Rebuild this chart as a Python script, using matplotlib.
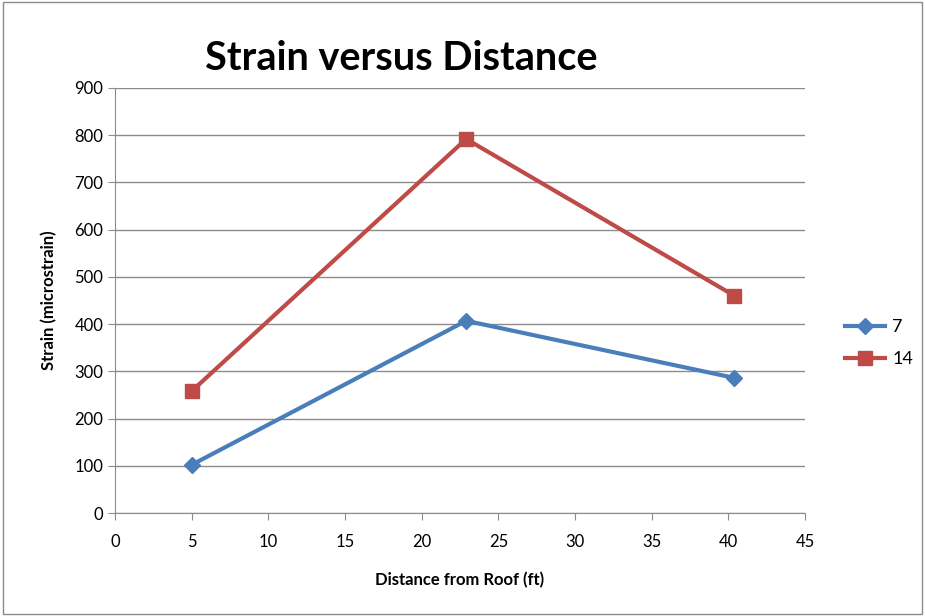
import matplotlib.pyplot as plt
from matplotlib.patches import Rectangle

# Data
distance = [5, 22.9, 40.4]
strain_7 = [102, 407, 286]
strain_14 = [258, 792, 460]
series_names = ['7', '14']

plt.rcParams['font.family'] = ['Lato', 'DejaVu Sans']

fig = plt.figure(figsize=(9.25, 6.16), dpi=100)
ax = fig.add_axes([115 / 925, 1 - 513 / 616, 690 / 925, 425 / 616])

ax.plot(distance, strain_7, color='#4a7ebb', linewidth=3, marker='D',
        markersize=8, label=series_names[0], zorder=3)
ax.plot(distance, strain_14, color='#be4b48', linewidth=3, marker='s',
        markersize=10, label=series_names[1], zorder=3)

ax.set_xlim(0, 45)
ax.set_ylim(0, 900)
ax.set_xticks(range(0, 46, 5))
ax.set_yticks(range(0, 901, 100))
ax.grid(axis='y', color='#8c8c8c', linewidth=1)
ax.set_axisbelow(True)

for side in ['top', 'right']:
    ax.spines[side].set_visible(False)
for side in ['left', 'bottom']:
    ax.spines[side].set_color('#8c8c8c')
ax.tick_params(colors='#8c8c8c', labelcolor='black', labelsize=12, length=5)
ax.tick_params(axis='x', pad=10)

ax.set_xlabel('Distance from Roof (ft)', fontsize=12, fontweight='bold', labelpad=16)
ax.set_ylabel('Strain (microstrain)', fontsize=12, fontweight='bold', labelpad=12)

fig.text(401 / 925, 1 - 58 / 616, 'Strain versus Distance', fontsize=28.5,
         fontweight='bold', ha='center', va='center')

ax.legend(loc='center left', bbox_to_anchor=(1.035, 0.40), frameon=False,
          fontsize=13, handlelength=2.2, labelspacing=0.9, handletextpad=0.4)

fig.patches.append(Rectangle((0.003, 0.003), 0.994, 0.994, transform=fig.transFigure,
                             fill=False, edgecolor='#8c8c8c', linewidth=1))

fig.savefig('out.png', dpi=100)
